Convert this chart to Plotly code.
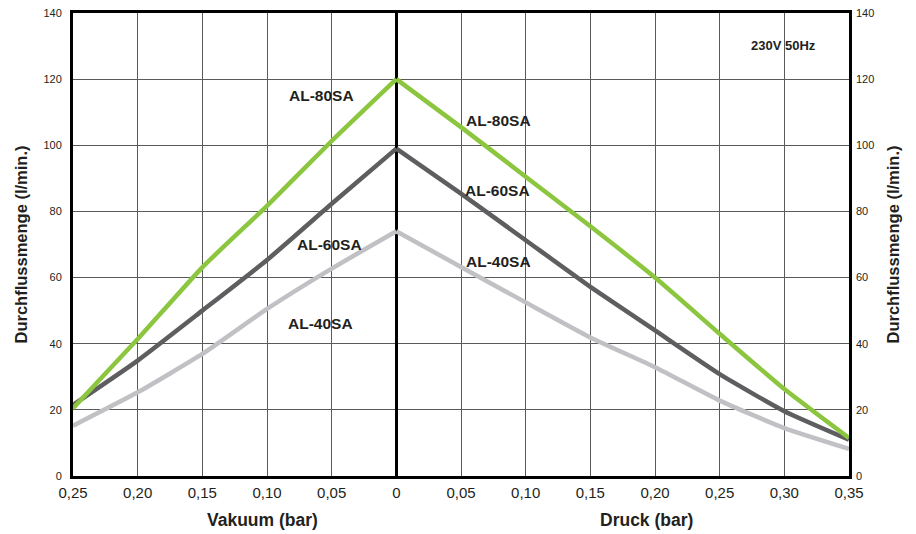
import plotly.graph_objects as go

# Pressure/vacuum positions (vacuum shown as negative values on the left)
x_vac = [-0.25, -0.20, -0.15, -0.10, -0.05, 0.0]
x_pre = [0.0, 0.05, 0.10, 0.15, 0.20, 0.25, 0.30, 0.35]

al80_vac = [20.5, 41.4, 63.1, 81.7, 101.3, 120]
al80_pre = [120, 105.5, 90.5, 75.5, 60, 43, 26.3, 11.5]
al60_vac = [21.5, 34.9, 50, 65.3, 82.3, 99]
al60_pre = [99, 85.4, 71.3, 57.2, 44, 30.8, 19.6, 11]
al40_vac = [15.2, 25.3, 36.9, 50.5, 62.7, 74]
al40_pre = [74, 63.2, 52.5, 41.9, 32.9, 22.8, 14.5, 8.2]

tick_vals = [-0.25, -0.20, -0.15, -0.10, -0.05, 0.0, 0.05, 0.10, 0.15, 0.20, 0.25, 0.30, 0.35]
tick_text = ["0,25", "0,20", "0,15", "0,10", "0,05", "0", "0,05", "0,10", "0,15", "0,20", "0,25", "0,30", "0,35"]
y_ticks = [0, 20, 40, 60, 80, 100, 120, 140]

GREEN = "#8cc63f"
DARK = "#5e5e60"
LIGHT = "#c1c1c5"
TXT = "#231f20"

fig = go.Figure()
series = [
    ("AL-40SA", LIGHT, al40_vac, al40_pre),
    ("AL-60SA", DARK, al60_vac, al60_pre),
    ("AL-80SA", GREEN, al80_vac, al80_pre),
]
for name, col, yv, yp in series:
    fig.add_trace(go.Scatter(x=x_vac, y=yv, mode="lines", name=name,
                             line=dict(color=col, width=4.5, shape="spline", smoothing=0.5),
                             showlegend=False))
    fig.add_trace(go.Scatter(x=x_pre, y=yp, mode="lines", name=name,
                             line=dict(color=col, width=4.5, shape="spline", smoothing=0.5),
                             showlegend=False))

# invisible trace for right axis
fig.add_trace(go.Scatter(x=[0], y=[0], yaxis="y2", mode="markers",
                         marker=dict(opacity=0), showlegend=False, hoverinfo="skip"))

FONT = "Liberation Sans, Arial, sans-serif"
labels = [
    (-0.0581, 115, "AL-80SA"),
    (-0.0519, 69.9, "AL-60SA"),
    (-0.0589, 46, "AL-40SA"),
    (0.0789, 107.5, "AL-80SA"),
    (0.0779, 86.3, "AL-60SA"),
    (0.0787, 65.0, "AL-40SA"),
]
annotations = []
for x, y, t in labels:
    annotations.append(dict(x=x, y=y, xref="x", yref="y", text="<b>" + t + "</b>",
                            showarrow=False, font=dict(family=FONT, size=15.5, color=TXT)))
annotations.append(dict(x=0.299, y=130.1, xref="x", yref="y", text="<b>230V 50Hz</b>",
                        showarrow=False, font=dict(family=FONT, size=13, color=TXT)))
annotations.append(dict(x=-0.1037, y=-0.095, xref="x", yref="paper", yanchor="middle",
                        text="<b>Vakuum (bar)</b>",
                        showarrow=False, font=dict(family=FONT, size=17.5, color=TXT)))
annotations.append(dict(x=0.1938, y=-0.095, xref="x", yref="paper", yanchor="middle",
                        text="<b>Druck (bar)</b>",
                        showarrow=False, font=dict(family=FONT, size=17.5, color=TXT)))

fig.update_layout(
    width=916, height=534,
    margin=dict(l=73, r=67, t=13, b=58, autoexpand=False),
    plot_bgcolor="white", paper_bgcolor="white",
    font=dict(family=FONT, color=TXT),
    annotations=annotations,
    xaxis=dict(range=[-0.25, 0.35], tickvals=tick_vals, ticktext=tick_text,
               tickfont=dict(size=15, color=TXT), automargin=False,
               showgrid=True, gridcolor="#5a5a5a", gridwidth=1,
               zeroline=True, zerolinecolor="black", zerolinewidth=3,
               showline=True, linecolor="black", linewidth=3, mirror=True,
               ticks="", ticklabelstandoff=1, ticklabeloverflow="allow"),
    yaxis=dict(range=[0, 140], tickvals=y_ticks, automargin=False,
               tickfont=dict(size=11, color=TXT), ticklabeloverflow="allow",
               showgrid=True, gridcolor="#5a5a5a", gridwidth=1,
               zeroline=False,
               showline=True, linecolor="black", linewidth=3, mirror=True,
               ticks="", ticklabelstandoff=6,
               title=dict(text="<b>Durchflussmenge (l/min.)</b>", font=dict(size=16.5, color=TXT),
                          standoff=12)),
    yaxis2=dict(range=[0, 140], tickvals=y_ticks, overlaying="y", side="right", automargin=False,
                tickfont=dict(size=11, color=TXT), ticklabeloverflow="allow",
                showgrid=False, zeroline=False,
                ticks="", ticklabelstandoff=6,
                title=dict(text="<b>Durchflussmenge (l/min.)</b>", font=dict(size=16.5, color=TXT),
                           standoff=14)),
)

fig.write_html("out.html", config={"displayModeBar": False},
               post_script="document.body.style.margin='0';")
